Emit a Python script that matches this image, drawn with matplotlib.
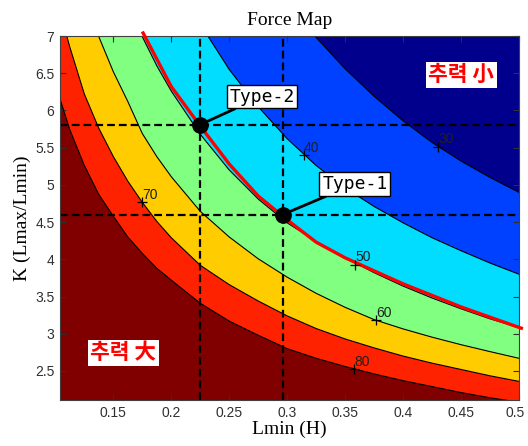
import matplotlib
matplotlib.use('Agg')
import matplotlib.pyplot as plt
from matplotlib.transforms import ScaledTranslation

# Lmin grid (H) and K = Lmax/Lmin of each force contour along it
lmin = [0.100, 0.1125, 0.125, 0.1375, 0.150, 0.1625, 0.175, 0.1875, 0.200,
        0.225, 0.250, 0.275, 0.300, 0.325, 0.350, 0.375, 0.400, 0.425,
        0.450, 0.475, 0.500]
k_30 = [18.8, 17.1, 15.6, 14.4, 13.4, 12.5, 11.7, 11.1, 10.5,
        9.50, 8.70, 8.03, 7.47, 6.98, 6.56, 6.19, 5.86, 5.57,
        5.32, 5.10, 4.90]
k_40 = [14.1, 12.8, 11.7, 10.8, 10.06, 9.40, 8.84, 8.35, 7.90,
        7.16, 6.55, 6.05, 5.62, 5.26, 4.96, 4.71, 4.49, 4.29,
        4.115, 3.95, 3.80]
k_50 = [11.1, 10.1, 9.25, 8.55, 7.95, 7.44, 6.99, 6.60, 6.26,
        5.68, 5.20, 4.81, 4.49, 4.24, 4.02, 3.82, 3.64, 3.48,
        3.335, 3.20, 3.083]
k_60 = [9.0, 8.2, 7.55, 6.99, 6.52, 6.12, 5.69, 5.38, 5.11,
        4.645, 4.30, 4.007, 3.76, 3.543, 3.355, 3.19, 3.065, 2.954,
        2.853, 2.76, 2.67]
k_70 = [7.55, 6.85, 6.22, 5.76, 5.38, 5.05, 4.765, 4.51, 4.29,
        3.92, 3.66, 3.44, 3.24, 3.07, 2.93, 2.81, 2.70, 2.605,
        2.52, 2.435, 2.36]
k_80 = [6.35, 5.74, 5.26, 4.87, 4.58, 4.30, 4.08, 3.88, 3.72,
        3.41, 3.17, 2.98, 2.80, 2.67, 2.56, 2.46, 2.37, 2.29,
        2.21, 2.14, 2.08]
levels = [30, 40, 50, 60, 70, 80]

# fill colours, from the weakest force (top right) to the strongest
band_colors = ['#00008C', '#0040FF', '#00DDFF', '#80FF80',
               '#FFCC00', '#FF2200', '#800000']

# where clabel put the level numbers
label_lmin = [0.4305, 0.3146, 0.3585, 0.3766, 0.1748, 0.358]
label_k = [5.51, 5.40, 3.93, 3.18, 4.77, 2.52]

# design line (red)
red_lmin = [0.1757, 0.200, 0.225, 0.250, 0.275, 0.300, 0.325, 0.350,
            0.400, 0.450, 0.500, 0.502]
red_k = [7.04, 6.32, 5.79, 5.28, 4.85, 4.53, 4.23, 4.02,
         3.67, 3.36, 3.085, 3.075]

# selected designs
type_names = ['Type-1', 'Type-2']
type_lmin = [0.296, 0.225]
type_k = [4.60, 5.81]

fig = plt.figure(figsize=(5.28, 4.46), dpi=100)
ax = fig.add_axes([60 / 528, 1 - 400 / 446, 459 / 528, 364 / 446])

ax.set_facecolor(band_colors[0])
contours = [k_30, k_40, k_50, k_60, k_70, k_80]
for i, k in enumerate(contours):
    ax.fill_between(lmin, 0, k, color=band_colors[i + 1], lw=0, zorder=1)
for k in contours:
    ax.plot(lmin, k, color='black', lw=0.8, zorder=2)

for lv, x, y in zip(levels, label_lmin, label_k):
    ax.plot(x, y, marker='+', color='black', ms=7, mew=0.9, zorder=6)
    ax.annotate(str(lv), (x, y), xytext=(0, 2.5), textcoords='offset points',
                ha='left', va='baseline', fontsize=10, color='#202020',
                family='Liberation Sans', zorder=6)

# guide lines through the two designs
for x, y in zip(type_lmin, type_k):
    ax.axhline(y, color='black', lw=1.6, ls=(0, (3.5, 1.8)), zorder=3)
    ax.axvline(x, color='black', lw=1.6, ls=(0, (3.5, 1.8)), zorder=3)

ax.plot(red_lmin, red_k, color='red', lw=2.4, zorder=5, clip_on=False)

box_pos = [(0.3302, 5.012), (0.250, 6.187)]
for name, x, y, (tx, ty) in zip(type_names, type_lmin, type_k, box_pos):
    ax.annotate(name, xy=(x, y), xytext=(tx, ty), ha='left', va='center',
                fontsize=13, family='DejaVu Sans Mono', zorder=7,
                bbox=dict(boxstyle='square,pad=0.15', fc='white', ec='black', lw=1),
                arrowprops=dict(arrowstyle='-', color='black', lw=2,
                                shrinkA=0, shrinkB=0))
ax.plot(type_lmin, type_k, 'o', color='black', ms=11, zorder=8)

kr_font = ['Noto Sans CJK KR', 'DejaVu Sans']
ax.text(0.4502, 6.48, '추력 小', color='red', fontsize=15.5, fontweight='bold',
        family=kr_font, ha='center', va='center', zorder=7,
        bbox=dict(boxstyle='square,pad=0.12', fc='white', ec='none'))
ax.text(0.1587, 2.744, '추력 大', color='red', fontsize=15.5, fontweight='bold',
        family=kr_font, ha='center', va='center', zorder=7,
        bbox=dict(boxstyle='square,pad=0.12', fc='white', ec='none'))

ax.set_xlim(0.104, 0.5)
ax.set_ylim(2.11, 7)
xt = [0.15, 0.2, 0.25, 0.3, 0.35, 0.4, 0.45, 0.5]
yt = [2.5, 3, 3.5, 4, 4.5, 5, 5.5, 6, 6.5, 7]
ax.set_xticks(xt)
ax.set_xticklabels([f'{v:g}' for v in xt])
ax.set_yticks(yt)
ax.set_yticklabels([f'{v:g}' for v in yt])
ax.tick_params(direction='in', length=4, width=0.8, top=True, right=True,
               labelsize=10, pad=4, colors='#303030')
for lab in ax.get_xticklabels() + ax.get_yticklabels():
    lab.set_family('Liberation Sans')
# keep the last x label inside the figure
last = ax.get_xticklabels()[-1]
last.set_transform(last.get_transform()
                   + ScaledTranslation(-2.5 / 72, 0, fig.dpi_scale_trans))
for sp in ax.spines.values():
    sp.set_linewidth(0.8)
    sp.set_color('#404040')
    sp.set_zorder(4)

serif = 'Liberation Serif'
ax.set_title('Force Map', fontsize=14, family=serif, pad=8)
ax.set_xlabel('Lmin (H)', fontsize=14, family=serif)
ax.set_ylabel('K (Lmax/Lmin)', fontsize=14, family=serif)
ax.xaxis.set_label_coords(0.5, -0.057)
ax.yaxis.set_label_coords(-0.063, 0.5)

fig.savefig('out.png', dpi=100)
